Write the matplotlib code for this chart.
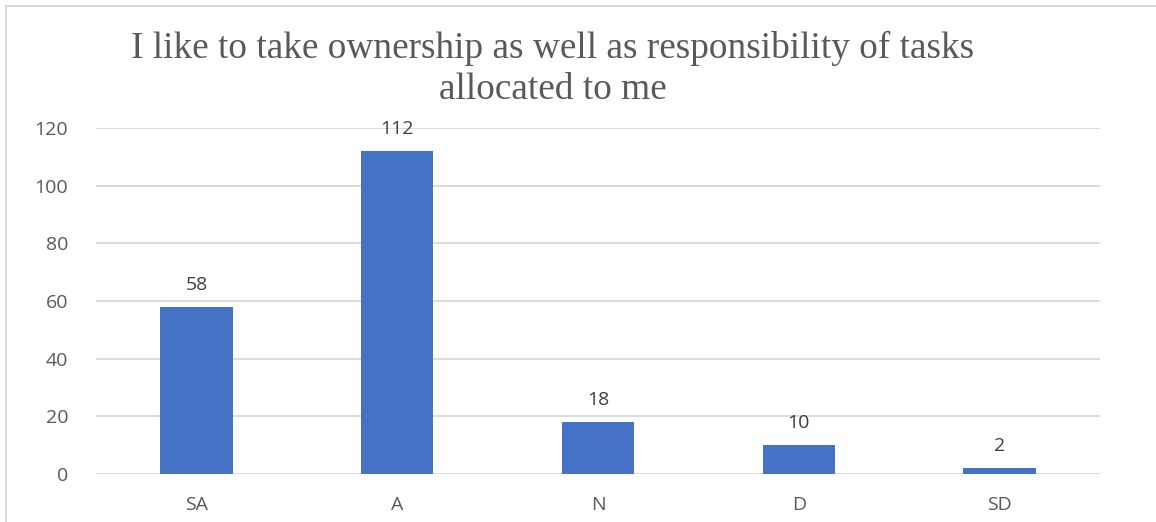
import matplotlib.pyplot as plt
from matplotlib.lines import Line2D

# survey answers
categories = ['SA', 'A', 'N', 'D', 'SD']
counts = [58, 112, 18, 10, 2]
yticks = [0, 20, 40, 60, 80, 100, 120]

fig = plt.figure(figsize=(11.56, 5.22), dpi=100)
ax = fig.add_axes([96/1156, 48/522, 1004/1156, 346/522])

bars = ax.bar(range(len(categories)), counts, width=0.36, color='#4472c4', zorder=3)
for b, v in zip(bars, counts):
    ax.text(b.get_x() + b.get_width()/2, v + 4.5, str(v), ha='center', va='bottom',
            fontsize=14, color='#404040', family='Open Sans')

ax.set_xlim(-0.5, len(categories) - 0.5)
ax.set_ylim(0, 120)
ax.set_yticks(yticks)
ax.set_xticks(range(len(categories)))
ax.set_xticklabels(categories)
ax.yaxis.grid(True, color='#d9d9d9', linewidth=1.3, zorder=0)
for s in ax.spines.values():
    s.set_visible(False)
ax.tick_params(length=0, labelsize=14, colors='#595959', pad=16)
ax.tick_params(axis='y', pad=20)
for lab in ax.get_xticklabels() + ax.get_yticklabels():
    lab.set_family('Open Sans')

fig.text(553/1156, 1 - 69/522, 'I like to take ownership as well as responsibility of tasks\nallocated to me',
         ha='center', va='center', fontsize=26.8, color='#595959', family='Liberation Serif',
         linespacing=1.25)

# outer frame (left and top edges only are visible)
fig.add_artist(Line2D([6/1156, 6/1156], [0, 1 - 6/522], transform=fig.transFigure, color='#d9d9d9', linewidth=1.3))
fig.add_artist(Line2D([6/1156, 1], [1 - 6/522, 1 - 6/522], transform=fig.transFigure, color='#d9d9d9', linewidth=1.3))

fig.savefig('out.png', dpi=100)
